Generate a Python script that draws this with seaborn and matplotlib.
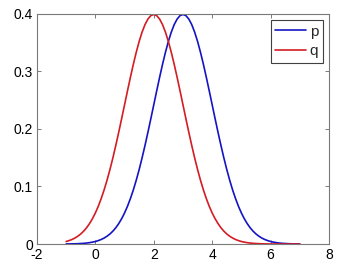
import matplotlib
matplotlib.use("Agg")
import matplotlib.pyplot as plt
import seaborn as sns
import pandas as pd

# x grid: -1 to 7 in 0.1 steps
x_vals = [round(-1.0 + 0.1 * i, 1) for i in range(81)]

# p peaks at x=3, q peaks at x=2
p_vals = [0.0001, 0.0002, 0.0003, 0.0004, 0.0006, 0.0009, 0.0012, 0.0017, 0.0024, 0.0033,
          0.0044, 0.0060, 0.0079, 0.0104, 0.0136, 0.0175, 0.0224, 0.0283, 0.0355, 0.0440,
          0.0540, 0.0656, 0.0790, 0.0940, 0.1109, 0.1295, 0.1497, 0.1714, 0.1942, 0.2179,
          0.2420, 0.2661, 0.2897, 0.3123, 0.3332, 0.3521, 0.3683, 0.3814, 0.3910, 0.3970,
          0.3989,
          0.3970, 0.3910, 0.3814, 0.3683, 0.3521, 0.3332, 0.3123, 0.2897, 0.2661, 0.2420,
          0.2179, 0.1942, 0.1714, 0.1497, 0.1295, 0.1109, 0.0940, 0.0790, 0.0656, 0.0540,
          0.0440, 0.0355, 0.0283, 0.0224, 0.0175, 0.0136, 0.0104, 0.0079, 0.0060, 0.0044,
          0.0033, 0.0024, 0.0017, 0.0012, 0.0009, 0.0006, 0.0004, 0.0003, 0.0002, 0.0001]

q_vals = [0.0044, 0.0060, 0.0079, 0.0104, 0.0136, 0.0175, 0.0224, 0.0283, 0.0355, 0.0440,
          0.0540, 0.0656, 0.0790, 0.0940, 0.1109, 0.1295, 0.1497, 0.1714, 0.1942, 0.2179,
          0.2420, 0.2661, 0.2897, 0.3123, 0.3332, 0.3521, 0.3683, 0.3814, 0.3910, 0.3970,
          0.3989,
          0.3970, 0.3910, 0.3814, 0.3683, 0.3521, 0.3332, 0.3123, 0.2897, 0.2661, 0.2420,
          0.2179, 0.1942, 0.1714, 0.1497, 0.1295, 0.1109, 0.0940, 0.0790, 0.0656, 0.0540,
          0.0440, 0.0355, 0.0283, 0.0224, 0.0175, 0.0136, 0.0104, 0.0079, 0.0060, 0.0044,
          0.0033, 0.0024, 0.0017, 0.0012, 0.0009, 0.0006, 0.0004, 0.0003, 0.0002, 0.0001,
          0.0001, 0.0001, 0.0000, 0.0000, 0.0000, 0.0000, 0.0000, 0.0000, 0.0000, 0.0000]

series_names = ["p", "q"]
x_ticks = [-2, 0, 2, 4, 6, 8]
y_ticks = [0, 0.1, 0.2, 0.3, 0.4]
y_tick_labels = ["0", "0.1", "0.2", "0.3", "0.4"]

df = pd.concat([
    pd.DataFrame({"x": x_vals, "y": p_vals, "s": series_names[0]}),
    pd.DataFrame({"x": x_vals, "y": q_vals, "s": series_names[1]}),
])

sns.set_style("white")
plt.rcParams["font.family"] = ["Liberation Sans", "DejaVu Sans"]

fig = plt.figure(figsize=(3.42, 2.67), dpi=100)
ax = fig.add_axes([0.108, 0.086, 0.854, 0.862])

palette = {"p": "#1414c4", "q": "#d41c24"}
sns.lineplot(data=df, x="x", y="y", hue="s", palette=palette, ax=ax,
             linewidth=1.2, estimator=None, sort=False)

ax.set_xlim(-2, 8)
ax.set_ylim(0, 0.4)
ax.set_xticks(x_ticks)
ax.set_xticklabels([str(t) for t in x_ticks])
ax.set_yticks(y_ticks)
ax.set_yticklabels(y_tick_labels)
ax.set_xlabel("")
ax.set_ylabel("")

for sp in ax.spines.values():
    sp.set_color("#7a7a7a")
    sp.set_linewidth(0.8)
    sp.set_visible(True)

ax.tick_params(direction="in", length=3, width=0.7, colors="#7a7a7a",
               labelcolor="black", labelsize=10, top=True, right=True,
               bottom=True, left=True)
ax.tick_params(axis="x", pad=2.5)
ax.tick_params(axis="y", pad=3)

leg = ax.legend(loc="upper right", frameon=True, fancybox=False, fontsize=11,
                handlelength=2.0, borderpad=0.3, labelspacing=0.35,
                handletextpad=0.25, borderaxespad=0.4)
leg.get_frame().set_edgecolor("#404040")
leg.get_frame().set_linewidth(0.8)
leg.get_frame().set_alpha(1)
leg.set_title(None)

fig.savefig("out.png", dpi=100)
